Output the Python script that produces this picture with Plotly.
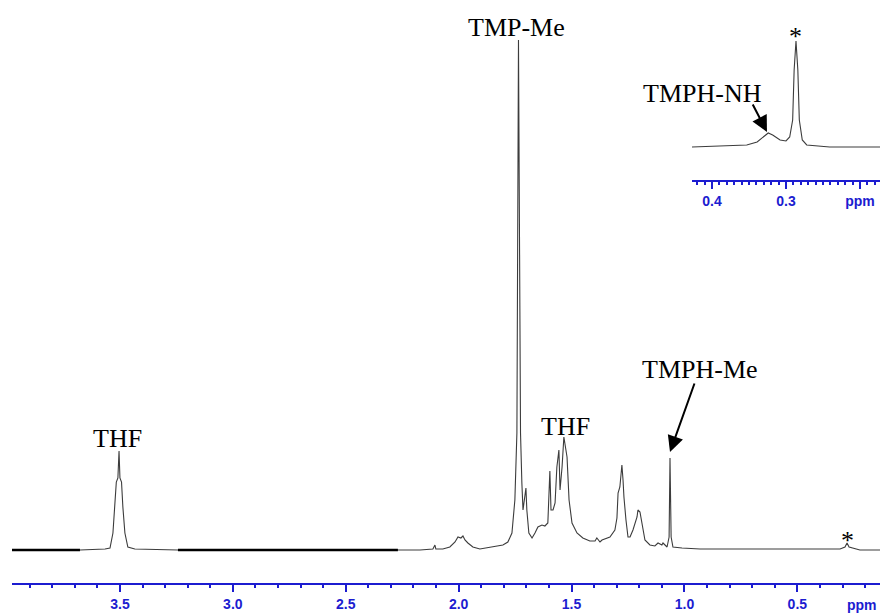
import plotly.graph_objects as go

# ---------------- data ----------------
main_ppm = [3.978, 3.677, 3.566, 3.544, 3.531, 3.522, 3.516, 3.509, 3.504, 3.500,
            3.493, 3.487, 3.478, 3.465, 3.434, 3.243, 2.269, 2.171, 2.114, 2.105,
            2.101, 2.070, 2.039, 2.016, 2.003, 1.990, 1.981, 1.972, 1.959, 1.937,
            1.906, 1.875, 1.853, 1.826, 1.804, 1.782, 1.764, 1.751, 1.742, 1.735,
            1.726, 1.720, 1.715, 1.702, 1.698, 1.689, 1.675, 1.662, 1.649, 1.631,
            1.618, 1.605, 1.600, 1.596, 1.591, 1.582, 1.573, 1.565, 1.556, 1.551,
            1.542, 1.534, 1.520, 1.511, 1.498, 1.476, 1.450, 1.419, 1.396, 1.388,
            1.374, 1.365, 1.330, 1.308, 1.299, 1.294, 1.286, 1.277, 1.272, 1.268,
            1.259, 1.250, 1.241, 1.228, 1.210, 1.206, 1.197, 1.188, 1.175, 1.153,
            1.131, 1.117, 1.100, 1.095, 1.077, 1.068, 1.064, 1.059, 1.051, 1.011,
            0.931, 0.311, 0.289, 0.280, 0.271, 0.223, 0.134]
main_int = [0, 0, 1, 2, 17, 47, 68, 72, 99, 72,
            68, 43, 17, 3, 1, 0, 0, 0, 1, 5,
            1, 1, 3, 8, 13, 12, 14, 10, 7, 3,
            1, 2, 3, 4, 5, 8, 17, 50, 117, 510,
            117, 67, 40, 62, 40, 17, 12, 17, 23, 25,
            24, 27, 50, 79, 40, 40, 47, 83, 100, 60,
            83, 113, 93, 50, 27, 17, 12, 9, 9, 12,
            8, 10, 13, 20, 32, 57, 63, 85, 70, 53,
            30, 13, 13, 20, 33, 40, 38, 27, 10, 5,
            4, 7, 5, 7, 3, 13, 92, 13, 3, 2,
            1, 1, 3, 7, 3, 0, 0]

# baseline stretches drawn heavier in the reference
thick_ppm_1 = [3.978, 3.677]
thick_ppm_2 = [3.243, 2.269]
thick_int = [0, 0]

inset_ppm = [0.427, 0.376, 0.353, 0.339, 0.331, 0.324, 0.318, 0.308, 0.300, 0.295,
             0.291, 0.289, 0.2865, 0.284, 0.282, 0.278, 0.272, 0.241, 0.173]
inset_int = [-1, 0, 1, 4, 9, 13, 11, 6, 5, 9,
             26, 76, 105, 76, 26, 6, 1, -1, -1]

main_tick_vals = [3.5, 3.0, 2.5, 2.0, 1.5, 1.0, 0.5]
main_tick_text = ["3.5", "3.0", "2.5", "2.0", "1.5", "1.0", "0.5"]
inset_tick_vals = [0.4, 0.3, 0.2]
inset_tick_text = ["0.4", "0.3", "ppm"]

# ---------------- styling ----------------
BLUE = "#1c1cd0"
SERIF = "Liberation Serif, Times New Roman, serif"
SANS = "Liberation Sans, Arial, sans-serif"
LINE = "#3c3c3c"

fig = go.Figure()
fig.add_trace(go.Scatter(x=main_ppm, y=main_int, mode="lines",
                         line=dict(color=LINE, width=1.1), hoverinfo="skip",
                         showlegend=False, xaxis="x", yaxis="y"))
for seg in (thick_ppm_1, thick_ppm_2):
    fig.add_trace(go.Scatter(x=seg, y=thick_int, mode="lines",
                             line=dict(color="black", width=2.6), hoverinfo="skip",
                             showlegend=False, xaxis="x", yaxis="y"))
fig.add_trace(go.Scatter(x=inset_ppm, y=inset_int, mode="lines",
                         line=dict(color=LINE, width=1.1), hoverinfo="skip",
                         showlegend=False, xaxis="x2", yaxis="y2"))

tickfont = dict(family=SANS, size=14, color=BLUE, weight="bold")

fig.update_layout(
    width=880, height=613,
    margin=dict(l=12, r=0, t=0, b=30),
    paper_bgcolor="white", plot_bgcolor="white",
    xaxis=dict(range=[3.978, 0.134], domain=[0, 1], anchor="y",
               tickmode="array", tickvals=main_tick_vals, ticktext=main_tick_text,
               ticks="outside", ticklen=7, tickwidth=2, tickcolor=BLUE,
               showline=True, linecolor=BLUE, linewidth=2,
               showgrid=False, zeroline=False, tickfont=tickfont,
               minor=dict(dtick=0.1, tick0=0, ticks="outside", ticklen=3,
                          tickwidth=2, tickcolor=BLUE, showgrid=False)),
    yaxis=dict(range=[-33, 550], domain=[0, 1], visible=False),
    xaxis2=dict(range=[0.427, 0.173], domain=[0.7834, 1], anchor="y2",
                tickmode="array", tickvals=inset_tick_vals, ticktext=inset_tick_text,
                ticks="outside", ticklen=7, tickwidth=2, tickcolor=BLUE,
                showline=True, linecolor=BLUE, linewidth=2,
                showgrid=False, zeroline=False, tickfont=tickfont,
                minor=dict(dtick=0.01, tick0=0, ticks="outside", ticklen=3,
                           tickwidth=1.5, tickcolor=BLUE, showgrid=False)),
    yaxis2=dict(range=[-34, 126], domain=[0.6913, 0.9657], anchor="x2",
                visible=False),
)

labfont = dict(family=SERIF, size=26, color="black")
labels = [
    ("TMP-Me", 1.746, 523, "x", "y"),
    ("THF", 3.513, 112, "x", "y"),
    ("THF", 1.529, 124, "x", "y"),
    ("TMPH-Me", 0.931, 181, "x", "y"),
    ("TMPH-NH", 0.918, 457, "x", "y"),
    ("*", 0.280, 10, "x", "y"),
    ("*", 0.2865, 109, "x2", "y2"),
]
for txt, xv, yv, xr, yr in labels:
    fig.add_annotation(text=txt, x=xv, y=yv, xref=xr, yref=yr, showarrow=False,
                       font=labfont, xanchor="center", yanchor="middle")

# arrows
fig.add_annotation(text="", x=1.064, y=98, xref="x", yref="y", showarrow=True,
                   ax=25, ay=-70, arrowhead=2, arrowsize=1.6, arrowwidth=2,
                   arrowcolor="black", standoff=0)
fig.add_annotation(text="", x=0.3257, y=14, xref="x2", yref="y2", showarrow=True,
                   ax=-15, ay=-29, arrowhead=2, arrowsize=1.6, arrowwidth=2,
                   arrowcolor="black", standoff=0)

# main axis unit label
fig.add_annotation(text="ppm", x=0.214, y=-0.005, xref="x", yref="paper",
                   showarrow=False, font=tickfont, xanchor="center", yanchor="top",
                   yshift=-9)

fig.write_html("out.html",
               config={"displayModeBar": False},
               post_script="document.body.style.margin='0px';"
                           "document.body.style.padding='0px';"
                           "document.body.style.overflow='hidden';")
